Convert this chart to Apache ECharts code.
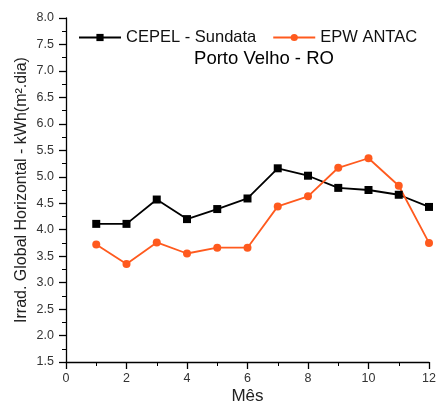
<!DOCTYPE html>
<html><head><meta charset="utf-8">
<script src="https://cdn.jsdelivr.net/npm/echarts@6/dist/echarts.min.js"></script>
<style>html,body{margin:0;padding:0;background:#fff}#c{width:438px;height:407px}</style>
</head><body><div id="c"></div>
<script>
const months = [1,2,3,4,5,6,7,8,9,10,11,12];
const cepel = [4.11,4.11,4.57,4.20,4.39,4.59,5.16,5.02,4.79,4.75,4.66,4.43];
const epw = [3.72,3.35,3.76,3.55,3.66,3.66,4.44,4.63,5.17,5.35,4.83,3.75];
const seriesNames = ['CEPEL - Sundata','EPW ANTAC'];
const titleText = 'Porto Velho - RO';
const xName = 'Mês';
const yName = 'Irrad. Global Horizontal - kWh(m².dia)';

const FONT = 'Liberation Sans, Arial, sans-serif';
const chart = echarts.init(document.getElementById('c'));
const axisCommon = {
  axisLine:{show:true,lineStyle:{color:'#000',width:1.3}},
  axisTick:{show:true,inside:false,length:7,lineStyle:{color:'#000',width:1.3}},
  minorTick:{show:true,splitNumber:2,length:4,lineStyle:{color:'#000',width:1}},
  splitLine:{show:false}
};
chart.setOption({
  animation:false,
  title:{text:titleText,left:259,top:44,textAlign:'center',textStyle:{fontFamily:FONT,fontSize:18.5,fontWeight:'normal',color:'#000'}},
  legend:{top:24,left:73,itemGap:16,itemWidth:42,itemHeight:9,
    textStyle:{fontFamily:FONT,fontSize:16.5,color:'#111'},
    data:[seriesNames[0],seriesNames[1]]},
  grid:{left:66,right:9,top:18,bottom:45,containLabel:false,outerBoundsMode:'none'},
  xAxis:Object.assign({},axisCommon,{type:'value',min:0,max:12,interval:2,
    name:xName,nameLocation:'middle',nameGap:26,nameMoveOverlap:false,
    nameTextStyle:{fontFamily:FONT,fontSize:17,color:'#222'},
    axisLabel:{color:'#333',fontFamily:FONT,fontSize:12.5,margin:10}}),
  yAxis:Object.assign({},axisCommon,{type:'value',min:1.5,max:8.0,interval:0.5,
    name:yName,nameLocation:'middle',nameGap:36,nameMoveOverlap:false,
    nameTextStyle:{fontFamily:FONT,fontSize:16,color:'#222'},
    axisLabel:{color:'#333',fontFamily:FONT,fontSize:12.5,margin:12,formatter:v=>v.toFixed(1)}}),
  series:[
    {name:seriesNames[0],type:'line',data:months.map((m,i)=>[m,cepel[i]]),
     symbol:'rect',symbolSize:8,itemStyle:{color:'#000'},lineStyle:{color:'#000',width:1.8}},
    {name:seriesNames[1],type:'line',data:months.map((m,i)=>[m,epw[i]]),
     symbol:'circle',symbolSize:8,itemStyle:{color:'#FF5A1E'},lineStyle:{color:'#FF5A1E',width:1.8}}
  ]
});
</script></body></html>
